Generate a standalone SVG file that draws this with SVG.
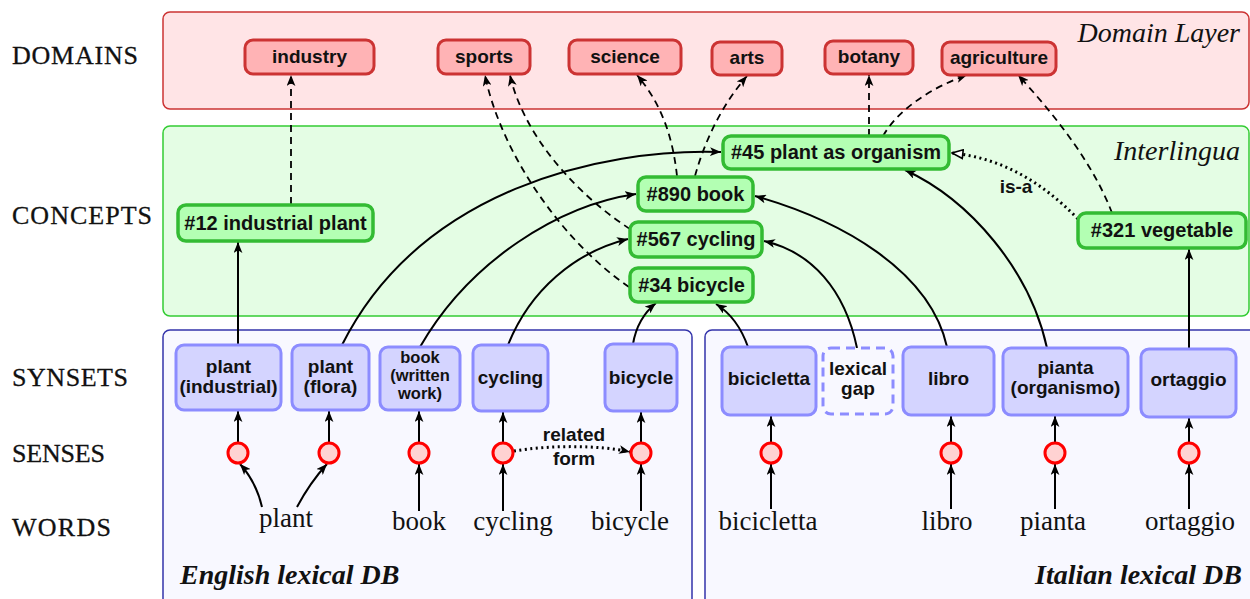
<svg xmlns="http://www.w3.org/2000/svg" width="1250" height="599" viewBox="0 0 1250 599">
<style>
.lbl{font-family:"Liberation Serif",serif;font-size:26px;fill:#111;stroke:#111;stroke-width:0.3}
.title{font-family:"Liberation Serif",serif;font-style:italic;font-size:28px;fill:#111}
.word{font-family:"Liberation Serif",serif;font-size:27px;fill:#111}
.dom rect{fill:#ffb3b5;stroke:#cc3333;stroke-width:3}
.con rect{fill:#b3ffb3;stroke:#33bb33;stroke-width:3.5}
.syn rect{fill:#d4d4ff;stroke:#8c8cff;stroke-width:3}
.gap rect{fill:#f8f8ff;stroke:#8c8cff;stroke-width:3;stroke-dasharray:9,6}
.sense circle{fill:#ffd2d2;stroke:#ff0000;stroke-width:3}
.nt{font-family:"Liberation Sans",sans-serif;font-weight:bold;font-size:19px;fill:#111;text-anchor:middle}
.ct{font-family:"Liberation Sans",sans-serif;font-weight:bold;font-size:20px;fill:#111;text-anchor:middle}
.st{font-family:"Liberation Sans",sans-serif;font-weight:bold;font-size:19px;fill:#111;text-anchor:middle}
.sm{font-size:16.5px}
.solid{fill:none;stroke:#000;stroke-width:2;marker-end:url(#ah)}
.dash{fill:none;stroke:#000;stroke-width:1.8;stroke-dasharray:7,5;marker-end:url(#ah)}
.dot{fill:none;stroke:#000;stroke-width:3;stroke-dasharray:2,3.5}
</style>
<defs>
<marker id="ah" viewBox="0 0 10 8" refX="10" refY="4" markerWidth="11" markerHeight="9" orient="auto" markerUnits="userSpaceOnUse">
<path d="M0,0 L10,4 L0,8 L2.5,4 Z" fill="#000"/>
</marker>
<marker id="open" viewBox="0 0 12 10" refX="11" refY="5" markerWidth="13" markerHeight="11" orient="auto" markerUnits="userSpaceOnUse">
<path d="M1,1 L11,5 L1,9 Z" fill="#fff" stroke="#000" stroke-width="1.5"/>
</marker>
</defs>

<g id="row-labels">
<text class="lbl" x="12" y="64" textLength="126">DOMAINS</text>
<text class="lbl" x="12" y="224" textLength="140">CONCEPTS</text>
<text class="lbl" x="12" y="386" textLength="116">SYNSETS</text>
<text class="lbl" x="12" y="462" textLength="93">SENSES</text>
<text class="lbl" x="12" y="536" textLength="99">WORDS</text>
</g>

<g id="panels">
<rect x="163" y="12" width="1086" height="97" rx="7" fill="#ffe4e6" stroke="#cc3333" stroke-width="1.5"/>
<text class="title" x="1240" y="42" text-anchor="end">Domain Layer</text>
<rect x="163" y="126" width="1086" height="190" rx="7" fill="#e4fde4" stroke="#33cc33" stroke-width="1.5"/>
<text class="title" x="1240" y="160" text-anchor="end">Interlingua</text>
<rect x="163" y="330" width="529" height="285" rx="7" fill="#f8f8ff" stroke="#3333aa" stroke-width="1.5"/>
<text class="title" x="180" y="584" font-weight="bold" font-size="27">English lexical DB</text>
<rect x="705" y="330" width="560" height="285" rx="7" fill="#f8f8ff" stroke="#3333aa" stroke-width="1.5"/>
<text class="title" x="1242" y="584" font-weight="bold" font-size="27" text-anchor="end">Italian lexical DB</text>
</g>

<g id="connectors">
<path class="dash" d="M291,204 L291,75"/>
<path class="dash" d="M629,287 C560,240 500,150 485,75"/>
<path class="dash" d="M630,229 C570,190 522,130 510,75"/>
<path class="dash" d="M677,176 C672,130 658,100 637,75"/>
<path class="dash" d="M695,176 C705,140 722,105 747,76"/>
<path class="dash" d="M869,136 L869,75"/>
<path class="dash" d="M883,136 C898,110 930,88 967,75"/>
<path class="dash" d="M1112,213 C1092,160 1050,110 1018,75"/>
<path class="dot" d="M1078,219 C1040,180 1000,158 952,153" marker-end="url(#open)"/>
<text class="st" x="1016" y="193">is-a</text>
<path class="solid" d="M238,345 L238,242"/>
<path class="solid" d="M342,345 C420,190 600,148 721,152"/>
<path class="solid" d="M420,347 C470,260 560,205 636,194"/>
<path class="solid" d="M508,345 C530,290 575,252 628,239"/>
<path class="solid" d="M633,344 C636,326 645,312 656,303"/>
<path class="solid" d="M748,347 C742,330 732,314 716,304"/>
<path class="solid" d="M857,348 C845,290 812,252 764,241"/>
<path class="solid" d="M947,347 C930,270 840,220 755,196"/>
<path class="solid" d="M1047,348 C1030,270 970,200 905,170"/>
<path class="solid" d="M1189,349 L1189,249"/>
<path class="solid" d="M238,443 L238,411"/>
<path class="solid" d="M329,443 L329,411"/>
<path class="solid" d="M419,443 L419,411"/>
<path class="solid" d="M503,443 L503,412"/>
<path class="solid" d="M641,443 L641,412"/>
<path class="solid" d="M771,443 L771,416"/>
<path class="solid" d="M951,443 L951,416"/>
<path class="solid" d="M1055,443 L1055,416"/>
<path class="solid" d="M1189,443 L1189,418"/>
<path class="solid" d="M262,507 C258,490 250,475 240,464"/>
<path class="solid" d="M297,507 C305,492 316,476 327,464"/>
<path class="solid" d="M419,511 L419,464"/>
<path class="solid" d="M503,511 L503,464"/>
<path class="solid" d="M641,511 L641,464"/>
<path class="solid" d="M771,509 L771,464"/>
<path class="solid" d="M951,509 L951,464"/>
<path class="solid" d="M1055,509 L1055,464"/>
<path class="solid" d="M1189,509 L1189,464"/>
<path class="dot" d="M514,451 C550,445 600,445 630,452" marker-end="url(#ah)"/>
<text class="st" x="574" y="441" font-size="17">related</text>
<text class="st" x="574" y="465" font-size="17">form</text>
</g>

<g id="d-industry" class="dom"><rect x="245" y="40" width="129" height="34" rx="8"/><text class="nt" x="309.5" y="63">industry</text></g>
<g id="d-sports" class="dom"><rect x="438" y="40" width="92" height="34" rx="8"/><text class="nt" x="484" y="63">sports</text></g>
<g id="d-science" class="dom"><rect x="569" y="40" width="112" height="34" rx="8"/><text class="nt" x="625" y="63">science</text></g>
<g id="d-arts" class="dom"><rect x="712" y="42" width="70" height="33" rx="8"/><text class="nt" x="747" y="64">arts</text></g>
<g id="d-botany" class="dom"><rect x="825" y="41" width="88" height="33" rx="8"/><text class="nt" x="869" y="63">botany</text></g>
<g id="d-agriculture" class="dom"><rect x="942" y="42" width="114" height="33" rx="8"/><text class="nt" x="999" y="64">agriculture</text></g>

<g id="c-12" class="con"><rect x="178" y="205" width="195" height="36" rx="8"/><text class="ct" x="275.5" y="230">#12 industrial plant</text></g>
<g id="c-45" class="con"><rect x="723" y="136" width="226" height="33" rx="8"/><text class="ct" x="836" y="159">#45 plant as organism</text></g>
<g id="c-890" class="con"><rect x="638" y="177" width="115" height="34" rx="8"/><text class="ct" x="695.5" y="201">#890 book</text></g>
<g id="c-567" class="con"><rect x="630" y="222" width="132" height="35" rx="8"/><text class="ct" x="696" y="246">#567 cycling</text></g>
<g id="c-34" class="con"><rect x="630" y="268" width="123" height="34" rx="8"/><text class="ct" x="691.5" y="292">#34 bicycle</text></g>
<g id="c-321" class="con"><rect x="1078" y="213" width="168" height="35" rx="8"/><text class="ct" x="1162" y="237">#321 vegetable</text></g>

<g id="s-plant-ind" class="syn"><rect x="176" y="345" width="105" height="65" rx="8"/><text class="st" x="228.5" y="373">plant</text><text class="st" x="228.5" y="393">(industrial)</text></g>
<g id="s-plant-flora" class="syn"><rect x="292" y="345" width="77" height="65" rx="8"/><text class="st" x="330.5" y="373">plant</text><text class="st" x="330.5" y="393">(flora)</text></g>
<g id="s-book" class="syn"><rect x="380" y="347" width="80" height="63" rx="8"/><text class="st sm" x="420" y="363">book</text><text class="st sm" x="420" y="381">(written</text><text class="st sm" x="420" y="399">work)</text></g>
<g id="s-cycling" class="syn"><rect x="473" y="345" width="75" height="66" rx="8"/><text class="st" x="510.5" y="384">cycling</text></g>
<g id="s-bicycle" class="syn"><rect x="605" y="344" width="72" height="67" rx="8"/><text class="st" x="641" y="384">bicycle</text></g>
<g id="s-bicicletta" class="syn"><rect x="722" y="347" width="94" height="68" rx="8"/><text class="st" x="769" y="385">bicicletta</text></g>
<g id="s-gap" class="gap"><rect x="823" y="348" width="70" height="66" rx="8"/><text class="st" x="858" y="375">lexical</text><text class="st" x="858" y="395">gap</text></g>
<g id="s-libro" class="syn"><rect x="903" y="347" width="91" height="68" rx="8"/><text class="st" x="948.5" y="385">libro</text></g>
<g id="s-pianta" class="syn"><rect x="1003" y="348" width="125" height="67" rx="8"/><text class="st" x="1065.5" y="374">pianta</text><text class="st" x="1065.5" y="394">(organismo)</text></g>
<g id="s-ortaggio" class="syn"><rect x="1141" y="349" width="95" height="68" rx="8"/><text class="st" x="1188.5" y="386">ortaggio</text></g>

<g id="senses" class="sense">
<circle cx="238" cy="453" r="10"/>
<circle cx="329" cy="453" r="10"/>
<circle cx="419" cy="453" r="10"/>
<circle cx="503" cy="453" r="10"/>
<circle cx="641" cy="453" r="10"/>
<circle cx="771" cy="453" r="10"/>
<circle cx="951" cy="453" r="10"/>
<circle cx="1055" cy="453" r="10"/>
<circle cx="1189" cy="453" r="10"/>
</g>

<g id="words" text-anchor="middle">
<text class="word" x="286" y="527">plant</text>
<text class="word" x="419" y="530">book</text>
<text class="word" x="513" y="530">cycling</text>
<text class="word" x="630" y="530">bicycle</text>
<text class="word" x="768" y="530">bicicletta</text>
<text class="word" x="947" y="530">libro</text>
<text class="word" x="1053" y="530">pianta</text>
<text class="word" x="1190" y="530">ortaggio</text>
</g>
</svg>
